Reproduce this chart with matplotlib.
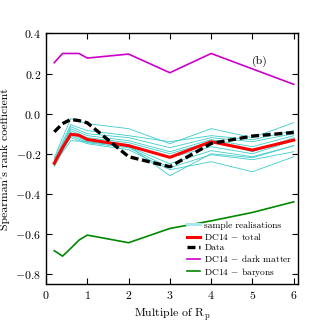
import matplotlib
matplotlib.use("Agg")
import matplotlib.pyplot as plt

plt.rcParams['font.family'] = 'serif'
plt.rcParams['font.serif'] = ['cmr10', 'DejaVu Serif']
plt.rcParams['mathtext.fontset'] = 'cm'
plt.rcParams['axes.formatter.use_mathtext'] = True
plt.rcParams['axes.unicode_minus'] = True

x_fine = [0.2, 0.4, 0.6, 0.8, 1, 2, 3, 4, 5, 6]
x_samp = [0.2, 0.6, 1, 2, 3, 4, 5, 6]

samples = [
    [-0.22, -0.025, -0.05, -0.075, -0.15, -0.075, -0.12, -0.045],
    [-0.23, -0.055, -0.085, -0.11, -0.14, -0.11, -0.13, -0.085],
    [-0.24, -0.065, -0.10, -0.12, -0.17, -0.12, -0.14, -0.10],
    [-0.25, -0.075, -0.11, -0.135, -0.19, -0.13, -0.165, -0.11],
    [-0.245, -0.085, -0.12, -0.145, -0.20, -0.14, -0.19, -0.12],
    [-0.255, -0.095, -0.13, -0.155, -0.22, -0.165, -0.20, -0.135],
    [-0.26, -0.10, -0.14, -0.165, -0.25, -0.185, -0.215, -0.16],
    [-0.265, -0.11, -0.145, -0.17, -0.27, -0.205, -0.23, -0.19],
    [-0.235, -0.12, -0.15, -0.18, -0.28, -0.24, -0.29, -0.215],
    [-0.25, -0.135, -0.14, -0.16, -0.31, -0.20, -0.22, -0.16],
]

dc14_total = [-0.248, -0.17, -0.103, -0.108, -0.129, -0.16, -0.218, -0.14, -0.182, -0.132]
data_obs = [-0.091, -0.05, -0.029, -0.035, -0.046, -0.215, -0.265, -0.149, -0.112, -0.094]
dc14_dm = [0.254, 0.30, 0.30, 0.30, 0.277, 0.297, 0.204, 0.30, 0.223, 0.146]
dc14_bar = [-0.684, -0.711, -0.672, -0.631, -0.606, -0.644, -0.573, -0.535, -0.493, -0.44]

fig = plt.figure(figsize=(3.31, 3.31), dpi=100)
ax = fig.add_axes([0.139, 0.142, 0.761, 0.757])

for i, s in enumerate(samples):
    ax.plot(x_samp, s, color='#3ccccc', lw=0.6,
            label='sample realisations' if i == 0 else None)
ax.plot(x_fine, dc14_total, color='red', lw=2.2, label=r'DC14 $-$ total')
ax.plot(x_fine, data_obs, color='black', lw=2.4, ls=(0, (2.4, 1.1)), label='Data')
ax.plot(x_fine, dc14_dm, color='#cc00cc', lw=1.2, label=r'DC14 $-$ dark matter')
ax.plot(x_fine, dc14_bar, color='#008800', lw=1.2, label=r'DC14 $-$ baryons')

ax.set_xlim(0, 6.1)
ax.set_ylim(-0.85, 0.4)
ax.set_xticks([0, 1, 2, 3, 4, 5, 6])
ax.set_yticks([-0.8, -0.6, -0.4, -0.2, 0.0, 0.2, 0.4])
ax.tick_params(direction='in', top=True, right=True, labelsize=8.5, length=4, width=0.8)
for sp in ax.spines.values():
    sp.set_linewidth(1.0)

ax.set_xlabel(r'Multiple of R$_{\rm p}$', fontsize=8.5)
ax.set_ylabel("Spearman's rank coefficient", fontsize=8.5)
ax.text(5.17, 0.26, '(b)', fontsize=8.5, ha='center', va='center')

leg = ax.legend(loc='lower right', fontsize=6.8, frameon=False, handlelength=1.3,
                handletextpad=0.5, borderaxespad=0.15, labelspacing=0.15)
leg.legend_handles[0].set_linewidth(2.2)
leg.legend_handles[0].set_color('#a8e8e8')

fig.savefig('out.png', dpi=100)
